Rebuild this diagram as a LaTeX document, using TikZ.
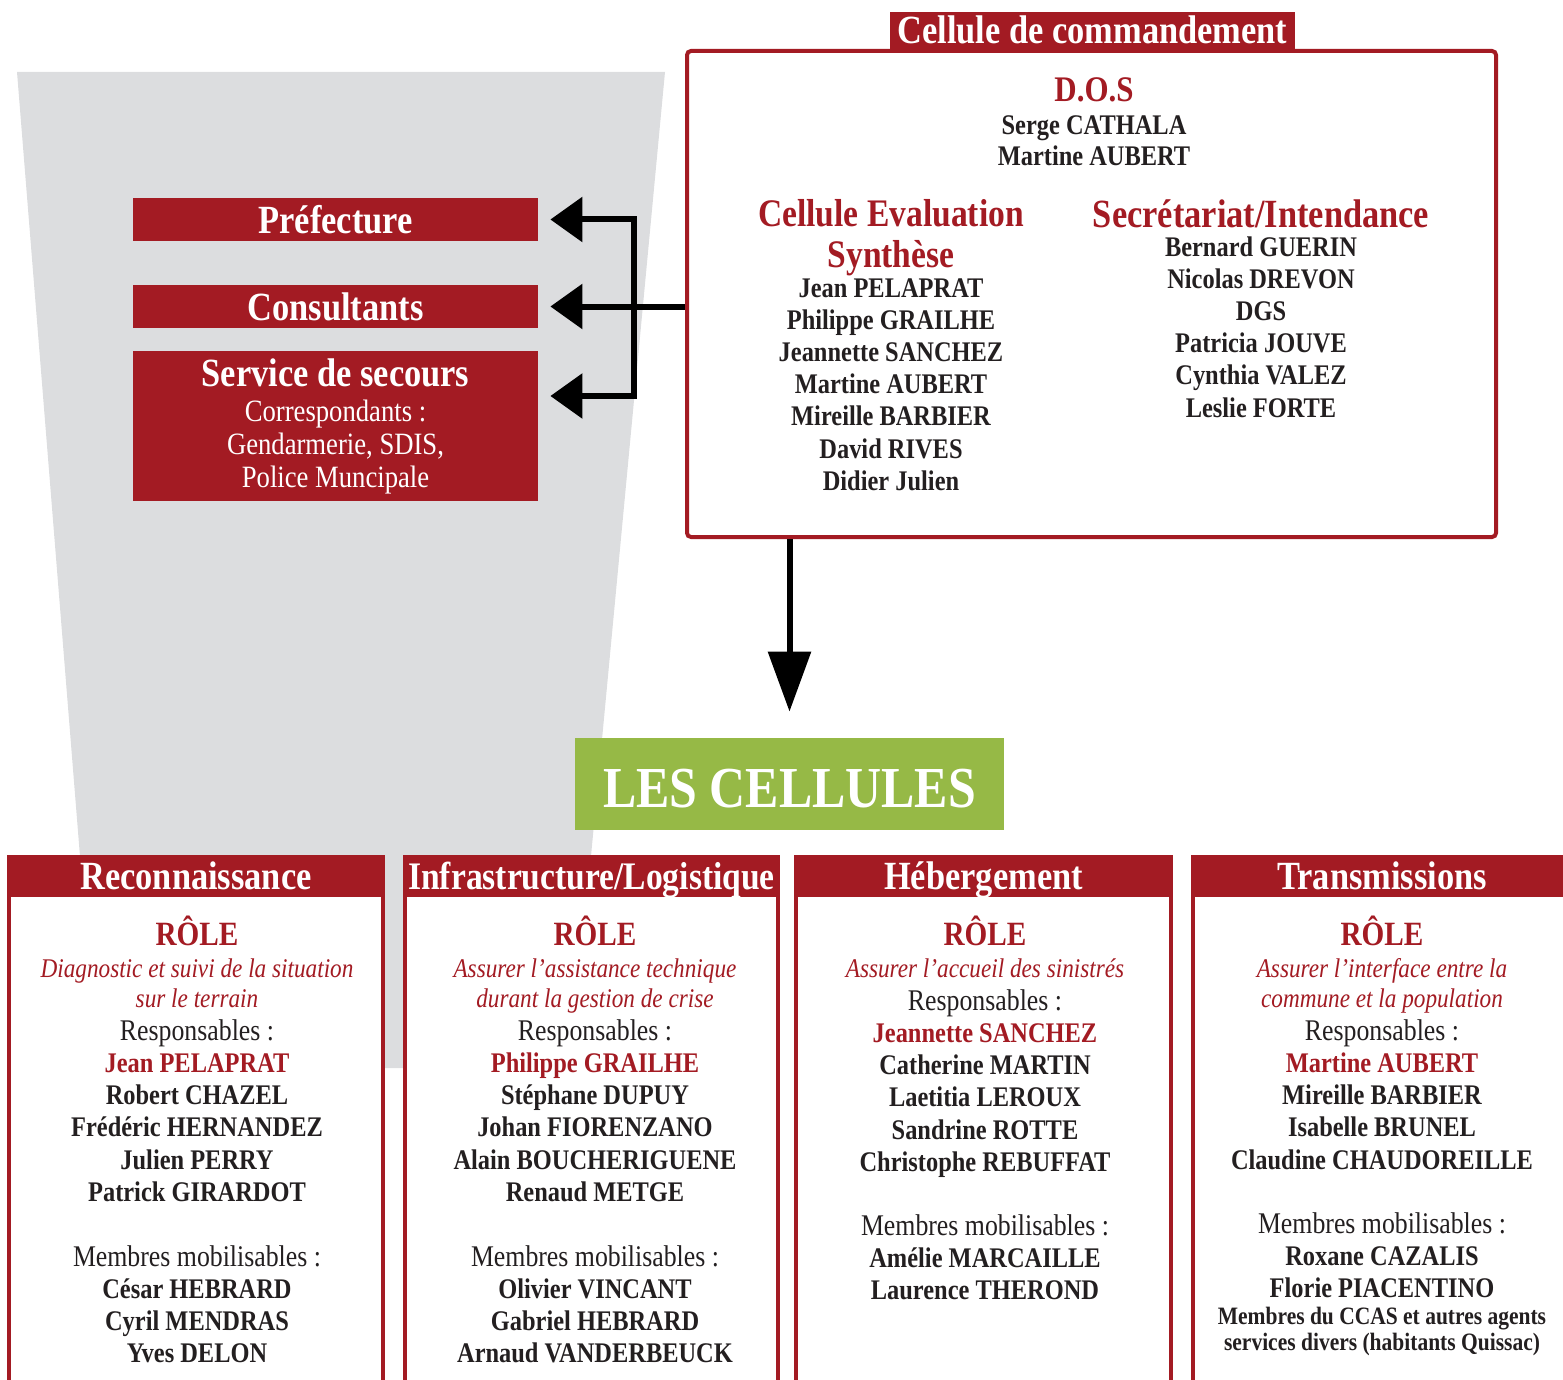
\documentclass[tikz,border=0pt]{standalone}
\usepackage{fontspec}
\setmainfont{Liberation Serif}[FakeStretch=0.86]
\usetikzlibrary{arrows.meta}
\definecolor{cellred}{RGB}{163,27,35}
\definecolor{ink}{RGB}{35,31,32}
\definecolor{funnel}{RGB}{220,221,223}
\definecolor{leaf}{RGB}{150,185,70}
\newcommand{\setfs}[2]{\fontsize{#1}{#2}\selectfont}
\newcommand{\lite}{\mdseries\setfs{15}{16.1}}

\begin{document}
\begin{tikzpicture}[x=0.5pt,y=-0.5pt,
  headbox/.style={fill=cellred,text=white,inner sep=0pt,font=\bfseries\setfs{20}{22},text height=15pt,text depth=2pt},
  sidebox/.style={fill=cellred,text=white,inner sep=0pt,minimum width=202.5pt,align=center,font=\setfs{15.5}{16.5}},
  cmdbox/.style={draw=cellred,line width=2pt,rounded corners=2pt},
  cellbox/.style={draw=cellred,fill=white,line width=2.2pt,inner sep=0pt},
  heading/.style={text=cellred,font=\bfseries\setfs{19.5}{20.5},align=center,inner sep=0pt},
  namelist/.style={text=ink,font=\bfseries\setfs{14.2}{16.1},align=center,inner sep=0pt},
  roletitle/.style={text=cellred,font=\bfseries\setfs{17}{20},inner sep=0pt},
  roletext/.style={text=cellred,font=\itshape\setfs{13.5}{15},align=center,inner sep=0pt},
  link/.style={line width=3pt,black}]
  \useasboundingbox (0,0) rectangle (1563,1380);
  \fill[funnel] (17,72) -- (665,72) -- (571,1068) -- (97,1068) -- cycle;

  % outside partners
  \node[sidebox,font=\bfseries\setfs{20}{22},minimum height=21.5pt] (pref) at (335.5,219.5) {Préfecture};
  \node[sidebox,font=\bfseries\setfs{20}{22},minimum height=21.5pt] (cons) at (335.5,306.5) {Consultants};
  \node[sidebox,minimum height=75pt] (secours) at (335.5,426) {{\bfseries\setfs{20}{22}Service de secours}\\[1pt]Correspondants :\\Gendarmerie, SDIS,\\Police Muncipale};

  % command cell
  \node[cmdbox,minimum width=404.5pt,minimum height=243pt] (cmd) at (1091.5,294) {};
  \node[headbox,minimum width=202.5pt,minimum height=19pt] (tab) at (1092.5,31) {Cellule de commandement};
  \node[roletitle,font=\bfseries\setfs{18}{20},anchor=base] (dos) at (1094,102) {D.O.S};
  \node[namelist,anchor=north,font=\bfseries\setfs{14.2}{15.5}] (dosnames) at (1094,115) {Serge CATHALA\\Martine AUBERT};
  \node[heading,anchor=north] (eval) at (891,199) {Cellule Evaluation\\Synthèse};
  \node[namelist,anchor=north] (evalnames) at (891,278) {Jean PELAPRAT\\Philippe GRAILHE\\Jeannette SANCHEZ\\Martine AUBERT\\Mireille BARBIER\\David RIVES\\Didier Julien};
  \node[heading,anchor=north,font=\bfseries\setfs{20}{20.5}] (secr) at (1261,199) {Secrétariat/Intendance};
  \node[namelist,anchor=north] (secrnames) at (1261,236) {Bernard GUERIN\\Nicolas DREVON\\DGS\\Patricia JOUVE\\Cynthia VALEZ\\Leslie FORTE};

  % links
  \coordinate (hub) at (634,306.5);
  \coordinate (sarr) at ([yshift=15pt]secours.east);
  \draw[link,line cap=rect] (hub |- pref) -- (hub |- sarr);
  \draw[link,-{Triangle[length=16pt,width=22pt]},shorten >=6pt] (hub |- pref) -- (pref.east);
  \draw[link,-{Triangle[length=16pt,width=22pt]},shorten >=6pt] (cmd.west |- cons) -- (cons.east);
  \draw[link,-{Triangle[length=16pt,width=22pt]},shorten >=6pt] (hub |- sarr) -- (sarr);

  \node[fill=leaf,text=white,inner sep=0pt,minimum width=214.5pt,minimum height=46pt,font=\bfseries\setfs{29}{30},text height=23pt,text depth=0pt] (cells) at (789.5,784) {LES CELLULES};
  \draw[link,-{Triangle[length=30pt,width=21pt]},shorten >=13pt] (cmd.south -| cells) -- (cells.north);

  % the four cells
  \node[cellbox,anchor=north,minimum width=187pt,minimum height=285pt] (cell1) at (196,855) {};
  \node[cellbox,anchor=north,minimum width=186.5pt,minimum height=285pt] (cell2) at (591.5,855) {};
  \node[cellbox,anchor=north,minimum width=187.5pt,minimum height=285pt] (cell3) at (983.5,855) {};
  \node[cellbox,anchor=north,minimum width=189pt,minimum height=285pt] (cell4) at (1382,855) {};
  \node[headbox,anchor=north,minimum width=188pt,minimum height=21pt] (head1) at (196,855) {Reconnaissance};
  \node[headbox,anchor=north,minimum width=187.5pt,minimum height=21pt,font=\bfseries\setfs{19.5}{22}] (head2) at (591.5,855) {Infrastructure/Logistique};
  \node[headbox,anchor=north,minimum width=188.5pt,minimum height=21pt] (head3) at (983.5,855) {Hébergement};
  \node[headbox,anchor=north,minimum width=190pt,minimum height=21pt] (head4) at (1382,855) {Transmissions};

  % Reconnaissance
  \node[roletitle,anchor=base] (role1) at (197,945) {RÔLE};
  \node[roletext,anchor=north] (task1) at (197,958) {Diagnostic et suivi de la situation\\sur le terrain};
  \node[namelist,anchor=north] (resp1) at (197,1019) {{\lite Responsables :}\\{\color{cellred}Jean PELAPRAT}\\Robert CHAZEL\\Frédéric HERNANDEZ\\Julien PERRY\\Patrick GIRARDOT};
  \node[namelist,anchor=north] (memb1) at (197,1245) {{\lite Membres mobilisables :}\\César HEBRARD\\Cyril MENDRAS\\Yves DELON};

  % Infrastructure/Logistique
  \node[roletitle,anchor=base] (role2) at (595,945) {RÔLE};
  \node[roletext,anchor=north] (task2) at (595,958) {Assurer l'assistance technique\\durant la gestion de crise};
  \node[namelist,anchor=north] (resp2) at (595,1019) {{\lite Responsables :}\\{\color{cellred}Philippe GRAILHE}\\Stéphane DUPUY\\Johan FIORENZANO\\Alain BOUCHERIGUENE\\Renaud METGE};
  \node[namelist,anchor=north] (memb2) at (595,1245) {{\lite Membres mobilisables :}\\Olivier VINCANT\\Gabriel HEBRARD\\Arnaud VANDERBEUCK};

  % Hebergement
  \node[roletitle,anchor=base] (role3) at (985,945) {RÔLE};
  \node[roletext,anchor=north] (task3) at (985,958) {Assurer l'accueil des sinistrés};
  \node[namelist,anchor=north] (resp3) at (985,989) {{\lite Responsables :}\\{\color{cellred}Jeannette SANCHEZ}\\Catherine MARTIN\\Laetitia LEROUX\\Sandrine ROTTE\\Christophe REBUFFAT};
  \node[namelist,anchor=north] (memb3) at (985,1214) {{\lite Membres mobilisables :}\\Amélie MARCAILLE\\Laurence THEROND};

  % Transmissions
  \node[roletitle,anchor=base] (role4) at (1382,945) {RÔLE};
  \node[roletext,anchor=north] (task4) at (1382,958) {Assurer l'interface entre la\\commune et la population};
  \node[namelist,anchor=north] (resp4) at (1382,1019) {{\lite Responsables :}\\{\color{cellred}Martine AUBERT}\\Mireille BARBIER\\Isabelle BRUNEL\\Claudine CHAUDOREILLE};
  \node[namelist,anchor=north] (memb4) at (1382,1212) {{\lite Membres mobilisables :}\\Roxane CAZALIS\\Florie PIACENTINO};
  \node[namelist,anchor=north,font=\bfseries\setfs{12.5}{13}] (ccas) at (1382,1307) {Membres du CCAS et autres agents\\services divers (habitants Quissac)};
\end{tikzpicture}
\end{document}
